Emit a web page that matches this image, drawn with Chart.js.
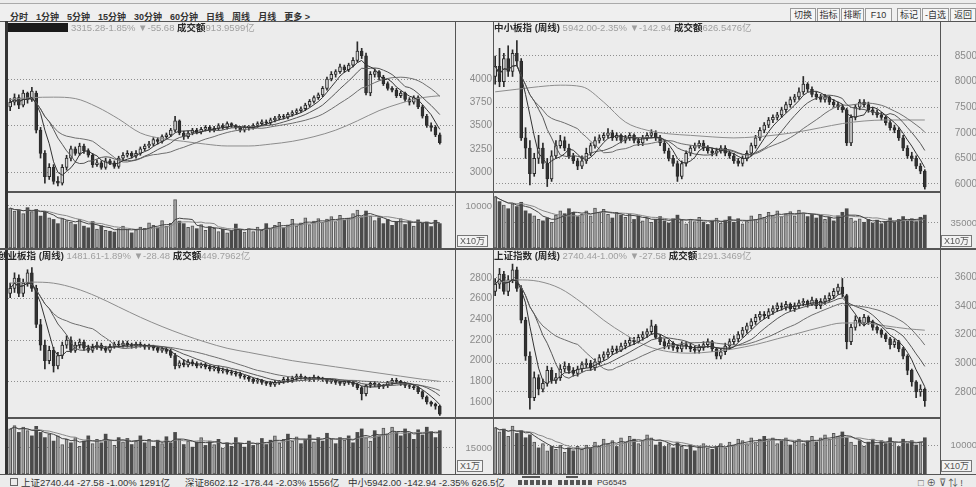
<!DOCTYPE html>
<html>
<head>
<meta charset="utf-8">
<script src="https://cdn.jsdelivr.net/npm/chart.js@4.4.1/dist/chart.umd.min.js"></script>
<style>
body{margin:0;width:976px;height:487px;overflow:hidden;background:#ececec;position:relative;font-family:"Liberation Sans","Noto Sans CJK SC",sans-serif;}
canvas{position:absolute}
.ln{position:absolute;background:#555}
.hdr{position:absolute;font-size:9.5px;line-height:11px;white-space:nowrap;color:#a0a0a0}
.hdr b{color:#2a2a2a}
.unit{position:absolute;border:1px solid #777;font-size:9px;line-height:10px;padding:0 2px;color:#555;background:#f3f3f3}
.btn{position:absolute;top:8px;height:12px;border:1px solid #999;font-size:9px;line-height:12px;text-align:center;color:#333;background:#f5f5f5}
#tool{position:absolute;left:10px;top:10px;font-size:9px;font-weight:bold;color:#333;display:flex;gap:8px;white-space:nowrap}
.st{position:absolute;top:478px;font-size:9.5px;line-height:10px;color:#333;white-space:nowrap}
</style>
</head>
<body>
<div style="position:absolute;left:0;top:3px;width:976px;height:17px;border-top:1px solid #aaa;border-bottom:1px solid #555;background:#efefef"></div>
<div id="tool"><span>分时</span><span>1分钟</span><span>5分钟</span><span>15分钟</span><span>30分钟</span><span>60分钟</span><span>日线</span><span>周线</span><span>月线</span><span>更多 &gt;</span></div>
<div class="btn" style="left:790px;width:24px">切换</div>
<div class="btn" style="left:817px;width:21px">指标</div>
<div class="btn" style="left:841px;width:21px">排断</div>
<div class="btn" style="left:865px;width:25px">F10</div>
<div class="btn" style="left:897px;width:22px">标记</div>
<div class="btn" style="left:922px;width:25px">-自选</div>
<div class="btn" style="left:950px;width:24px">返回</div>

<canvas id="p0" width="484" height="169" style="left:8px;top:22px"></canvas>
<canvas id="v0" width="484" height="55" style="left:8px;top:193px"></canvas>
<canvas id="p1" width="484" height="169" style="left:493px;top:22px"></canvas>
<canvas id="v1" width="484" height="55" style="left:493px;top:193px"></canvas>
<canvas id="p2" width="484" height="167" style="left:8px;top:250px"></canvas>
<canvas id="v2" width="484" height="55" style="left:8px;top:419px"></canvas>
<canvas id="p3" width="484" height="167" style="left:493px;top:250px"></canvas>
<canvas id="v3" width="484" height="55" style="left:493px;top:419px"></canvas>

<div class="ln" style="left:0;top:21px;width:976px;height:1px"></div>
<div class="ln" style="left:5px;top:21px;width:3px;height:453px;background:#333"></div>
<div class="ln" style="left:455px;top:21px;width:1px;height:453px"></div>
<div class="ln" style="left:493px;top:21px;width:1px;height:453px"></div>
<div class="ln" style="left:940px;top:21px;width:1px;height:453px"></div>
<div class="ln" style="left:8px;top:191px;width:932px;height:2px"></div>
<div class="ln" style="left:0;top:248px;width:976px;height:2px"></div>
<div class="ln" style="left:8px;top:417px;width:932px;height:2px"></div>
<div class="ln" style="left:0;top:474px;width:976px;height:1px"></div>

<div style="position:absolute;left:8px;top:23px;width:60px;height:9px;background:#1a1a1a"></div>
<div class="hdr" style="left:71px;top:22px">3315.28-1.85% ▼-55.68 <b>成交额</b>913.9599亿</div>
<div class="hdr" style="left:494px;top:22px"><b>中小板指 (周线)</b> 5942.00-2.35% ▼-142.94 <b>成交额</b>626.5476亿</div>
<div class="hdr" style="left:-2px;top:250px"><b>创业板指 (周线)</b> 1481.61-1.89% ▼-28.48 <b>成交额</b>449.7962亿</div>
<div class="hdr" style="left:494px;top:250px"><b>上证指数 (周线)</b> 2740.44-1.00% ▼-27.58 <b>成交额</b>1291.3469亿</div>

<div class="unit" style="left:457px;top:235px">X10万</div>
<div class="unit" style="left:941px;top:235px">X10万</div>
<div class="unit" style="left:457px;top:460px">X1万</div>
<div class="unit" style="left:941px;top:460px">X10万</div>

<div style="position:absolute;left:10px;top:478px;width:6px;height:6px;border:1px solid #666"></div>
<div class="st" style="left:21px">上证2740.44 -27.58 -1.00% 1291亿</div>
<div class="st" style="left:185px">深证8602.12 -178.44 -2.03% 1556亿</div>
<div class="st" style="left:348px">中小5942.00 -142.94 -2.35% 626.5亿</div>
<div style="position:absolute;left:518px;top:480px;width:36px;height:5px;background:repeating-linear-gradient(90deg,#555 0 4px,transparent 4px 6px)"></div>
<div style="position:absolute;left:522px;top:476px;width:18px;height:2px;background:#555"></div>
<div style="position:absolute;left:558px;top:480px;width:34px;height:5px;background:repeating-linear-gradient(90deg,#555 0 4px,transparent 4px 6px)"></div>
<div style="position:absolute;left:566px;top:476px;width:12px;height:2px;background:#555"></div>
<div class="st" style="left:597px;font-size:8px">PG6545</div>
<div class="st" style="left:918px;color:#555">□ ⊕ ⊽ ⇅ !</div>

<script>
// week slots, three empty ones keep the gap at the right edge
const weeks = [];
for (let i = 1; i <= 100; i++) weeks.push('W' + i);
const cats = weeks.concat(['P1', 'P2', 'P3']);

// top left index
const hsOpen = [3700,3750,3800,3720,3850,3780,3850,3450,3200,2950, 3050,2900,2880,3050,3150,3250,3200,3280,3230,3180,
  3080,3100,3050,3120,3100,3060,3150,3180,3200,3170, 3200,3250,3280,3300,3350,3330,3380,3400,3450,3550,
  3420,3380,3420,3450,3430,3460,3480,3450,3470,3500, 3480,3520,3500,3480,3450,3480,3480,3500,3520,3540,
  3530,3560,3580,3600,3590,3620,3640,3660,3680,3720, 3760,3800,3830,3900,4000,4050,4080,4130,4100,4150,
  4200,4300,4250,3850,4050,4080,4020,3950,3900,3880, 3820,3850,3780,3750,3800,3700,3600,3500,3480,3400];
const hsHigh = [3790,3840,3830,3880,3860,3910,3870,3480,3230,3090, 3080,2950,3080,3180,3280,3270,3310,3300,3250,3200,
  3130,3120,3150,3140,3120,3170,3210,3230,3220,3230, 3270,3300,3330,3370,3370,3400,3420,3470,3600,3560,
  3440,3440,3470,3470,3480,3500,3500,3490,3520,3520, 3540,3530,3510,3490,3500,3500,3520,3540,3560,3560,
  3580,3600,3620,3620,3640,3660,3680,3700,3740,3780, 3820,3850,3920,4020,4080,4100,4160,4150,4170,4230,
  4400,4330,4280,4080,4110,4090,4040,3970,3920,3900, 3870,3860,3800,3820,3820,3720,3620,3530,3500,3420];
const hsLow = [3660,3720,3680,3700,3740,3760,3420,3150,2880,2920, 2870,2850,2860,3020,3120,3180,3180,3200,3160,3050,
  3060,3030,3030,3080,3040,3040,3130,3160,3150,3150, 3180,3230,3260,3280,3300,3310,3360,3380,3430,3400,
  3350,3360,3400,3410,3410,3440,3430,3430,3450,3460, 3460,3480,3460,3430,3430,3450,3460,3480,3500,3510,
  3510,3540,3560,3570,3570,3600,3620,3640,3660,3700, 3740,3780,3810,3880,3980,4020,4060,4070,4080,4130,
  4180,4220,3830,3820,4020,3990,3930,3880,3860,3800, 3800,3760,3720,3730,3680,3580,3480,3440,3380,3300];
const hsClose = [3750,3800,3720,3850,3780,3870,3450,3200,2950,3050, 2900,2880,3050,3150,3250,3200,3280,3230,3180,3080,
  3100,3050,3120,3100,3060,3150,3180,3200,3170,3200, 3250,3280,3300,3350,3330,3380,3400,3450,3550,3420,
  3380,3420,3450,3430,3460,3480,3450,3470,3500,3480, 3520,3500,3480,3450,3480,3480,3500,3520,3540,3530,
  3560,3580,3600,3590,3620,3640,3660,3680,3720,3760, 3800,3830,3900,4000,4050,4080,4130,4100,4150,4200,
  4300,4250,3850,4050,4080,4020,3950,3900,3880,3820, 3850,3780,3750,3800,3700,3600,3500,3480,3400,3315.28];
const hsVol = [9500,8800,9000,8200,9600,8700,9200,7600,8500,7200, 6800,5800,7000,6500,6200,5600,6900,5200,4800,6300,
  4500,5300,4200,4000,3800,4600,5200,4400,3600,4300, 5000,4700,6000,5400,4800,6500,5200,5900,11500,6400,
  5800,4900,5300,4600,5600,4200,5100,4700,3900,4500, 3600,4100,5700,4300,3800,4600,3900,5000,4200,5800,
  4600,5400,6100,4800,5500,6800,5200,6000,7200,5600, 6400,7000,6100,6900,7500,6300,7800,6600,7100,8200,
  9000,7400,8800,7600,6500,7200,5800,6800,5400,6300, 7000,5600,6400,5200,6700,5900,6200,5100,6600,5800];
const hsLongMA = [[0,3780],[5,3800],[10,3805],[15,3790],[20,3700],[25,3570],[30,3420],[35,3360],[40,3330],[45,3300],
  [50,3280],[55,3280],[60,3300],[65,3330],[70,3380],[75,3450],[80,3550],[85,3660],[90,3740],[95,3800],[99,3820]];

// 中小板指
const zxOpen = [8100,8300,8000,8450,8200,8550,8400,6900,6700,6200, 6500,6700,6400,6100,6550,6750,6850,6700,6550,6450,
  6350,6450,6600,6750,6850,6900,6950,7000,6900,6950, 6850,6900,6950,6850,6800,6900,6950,7000,6900,6800,
  6650,6500,6400,6150,6400,6600,6700,6750,6800,6700, 6650,6600,6650,6700,6600,6550,6450,6400,6500,6600,
  6750,6900,7050,7150,7250,7300,7350,7450,7550,7650, 7700,7800,7950,7850,7750,7700,7650,7700,7600,7550,
  7500,7450,6800,7300,7500,7600,7550,7450,7400,7350, 7300,7200,7100,7050,6900,6700,6550,6500,6350,6250];
const zxHigh = [8500,8650,8550,8700,8620,8800,8450,7100,6850,6600, 6950,6800,6500,6650,6850,6950,6920,6780,6600,6500,
  6550,6700,6800,6920,6960,7000,7080,7050,7000,6980, 6950,7000,6980,6900,6950,7000,7060,7040,6950,6850,
  6700,6560,6450,6450,6650,6750,6800,6850,6850,6750, 6700,6700,6750,6750,6650,6600,6500,6550,6650,6800,
  6950,7100,7200,7300,7350,7400,7500,7600,7700,7750, 7880,8100,7980,7900,7800,7750,7750,7720,7650,7600,
  7550,7480,7350,7550,7650,7650,7600,7500,7450,7400, 7330,7250,7150,7100,6950,6750,6620,6550,6400,6280];
const zxLow = [7950,7900,7900,8100,8100,8300,6850,6500,5980,6150, 6400,6300,5950,6050,6500,6700,6650,6500,6400,6280,
  6300,6400,6550,6700,6800,6850,6900,6850,6850,6800, 6800,6850,6800,6750,6750,6850,6900,6850,6750,6600,
  6450,6350,6050,6100,6350,6550,6650,6700,6650,6600, 6550,6550,6600,6550,6500,6400,6350,6350,6450,6550,
  6700,6850,7000,7100,7200,7250,7300,7400,7500,7600, 7650,7750,7800,7700,7650,7600,7600,7550,7500,7450,
  7400,6750,6750,7250,7450,7500,7400,7350,7300,7250, 7150,7050,7000,6850,6650,6500,6450,6300,6200,5900];
const zxClose = [8300,8000,8450,8200,8550,8400,6900,6700,6200,6500, 6700,6400,6100,6550,6750,6850,6700,6550,6450,6350,
  6450,6600,6750,6850,6900,6950,7000,6900,6950,6850, 6900,6950,6850,6800,6900,6950,7000,6900,6800,6650,
  6500,6400,6150,6400,6600,6700,6750,6800,6700,6650, 6600,6650,6700,6600,6550,6450,6400,6500,6600,6750,
  6900,7050,7150,7250,7300,7350,7450,7550,7650,7700, 7800,7950,7850,7750,7700,7650,7700,7600,7550,7500,
  7450,6800,7300,7500,7600,7550,7450,7400,7350,7300, 7200,7100,7050,6900,6700,6550,6500,6350,6250,5942];
const zxVol = [72000,65000,60000,55000,62000,58000,64000,52000,48000,45000, 40000,38000,42000,36000,46000,52000,48000,55000,50000,44000,
  47000,52000,45000,56000,50000,54000,47000,42000,50000,46000, 43000,48000,40000,45000,38000,42000,36000,40000,44000,38000,
  35000,41000,46000,39000,34000,40000,37000,43000,36000,33000, 38000,42000,35000,39000,44000,36000,41000,34000,38000,45000,
  40000,47000,43000,50000,46000,52000,44000,48000,51000,45000, 53000,49000,44000,47000,42000,46000,40000,43000,38000,45000,
  50000,55000,42000,38000,41000,36000,40000,35000,39000,34000, 37000,42000,36000,40000,44000,38000,41000,37000,43000,46000];
const zxLongMA = [[0,7800],[5,7850],[10,7900],[15,7930],[20,7900],[25,7600],[30,7210],[35,7050],[40,6980],[45,6950],
  [50,6920],[55,6900],[60,6920],[65,6960],[70,7020],[75,7100],[80,7180],[85,7230],[90,7250],[95,7250],[99,7250]];

// 创业板指
const cyOpen = [2650,2700,2800,2650,2750,2850,2700,2350,2150,2000, 2100,1950,2050,2150,2200,2100,2150,2180,2120,2100,
  2130,2150,2120,2100,2140,2160,2150,2170,2150,2140, 2160,2150,2130,2140,2120,2100,2110,2090,2050,1950,
  1980,1960,1990,1970,1950,1960,1940,1920,1930,1900, 1910,1890,1880,1870,1850,1840,1820,1800,1810,1790,
  1780,1770,1790,1800,1820,1810,1830,1850,1840,1830, 1820,1840,1830,1820,1800,1810,1790,1780,1800,1790,
  1770,1740,1680,1760,1780,1770,1750,1760,1790,1810, 1800,1780,1760,1750,1740,1700,1650,1600,1580,1560];
const cyHigh = [2750,2850,2830,2790,2880,2900,2730,2400,2200,2140, 2130,2080,2180,2240,2230,2180,2210,2200,2150,2160,
  2180,2170,2140,2160,2180,2190,2190,2190,2170,2180, 2180,2160,2160,2150,2140,2130,2130,2110,2070,2000,
  2010,2010,2010,1990,1980,1980,1960,1950,1950,1930, 1920,1910,1900,1890,1860,1850,1830,1830,1820,1800,
  1800,1810,1810,1840,1840,1850,1870,1870,1850,1840, 1860,1850,1840,1830,1820,1820,1800,1810,1810,1800,
  1780,1750,1770,1800,1800,1780,1770,1800,1830,1830, 1810,1790,1770,1760,1750,1710,1660,1610,1590,1570];
const cyLow = [2610,2660,2620,2620,2720,2670,2320,2100,1920,1970, 1890,1920,2020,2120,2080,2080,2120,2100,2080,2080,
  2110,2100,2080,2080,2120,2130,2130,2130,2120,2120, 2130,2110,2110,2100,2080,2080,2070,2030,1920,1930,
  1940,1940,1950,1930,1930,1920,1900,1900,1880,1880, 1870,1860,1850,1830,1820,1800,1780,1780,1770,1760,
  1750,1750,1770,1780,1790,1790,1810,1820,1810,1800, 1800,1810,1800,1780,1780,1770,1760,1760,1770,1750,
  1720,1620,1660,1740,1750,1730,1730,1740,1770,1780, 1760,1740,1730,1720,1680,1630,1580,1560,1530,1470];
const cyClose = [2700,2800,2650,2750,2850,2700,2350,2150,2000,2100, 1950,2050,2150,2200,2100,2150,2180,2120,2100,2130,
  2150,2120,2100,2140,2160,2150,2170,2150,2140,2160, 2150,2130,2140,2120,2100,2110,2090,2050,1950,1980,
  1960,1990,1970,1950,1960,1940,1920,1930,1900,1910, 1890,1880,1870,1850,1840,1820,1800,1810,1790,1780,
  1770,1790,1800,1820,1810,1830,1850,1840,1830,1820, 1840,1830,1820,1800,1810,1790,1780,1800,1790,1770,
  1740,1680,1760,1780,1770,1750,1760,1790,1810,1800, 1780,1760,1750,1740,1700,1650,1600,1580,1560,1481.61];
const cyVol = [26000,28000,24000,27000,25000,22000,27500,24000,21000,23000, 19000,22000,17000,20000,18000,21000,16000,19000,22000,17500,
  20000,18000,23000,19500,16500,21000,18500,20500,17000,19000, 22000,18000,20000,16000,19500,17500,21500,18000,24000,20000,
  17000,19000,15500,18500,21000,16500,19000,17000,20000,15000, 18000,16000,21000,17500,15500,19000,16500,18000,20500,17000,
  19500,22000,18000,20000,23000,19000,21500,17500,20000,22500, 18500,21000,19000,23500,20000,17500,21000,19500,22000,18000,
  24000,26000,21000,19000,25000,22000,26500,23000,27000,24000, 22000,26000,23500,20000,25500,22500,27000,24500,21000,25000];
const cyLongMA = [[0,2750],[5,2760],[10,2750],[15,2700],[20,2620],[25,2520],[30,2420],[35,2330],[40,2250],[45,2180],
  [50,2120],[55,2080],[60,2040],[65,2000],[70,1970],[75,1940],[80,1910],[85,1880],[90,1850],[95,1820],[99,1800]];

// 上证指数
const shOpen = [3500,3550,3620,3500,3580,3650,3520,3300,3050,2760, 2900,2820,2860,2950,2880,2900,2960,2980,2950,2930,
  2960,2990,3000,2970,3010,3040,3060,3080,3100,3090, 3120,3140,3160,3150,3180,3200,3220,3260,3180,3150,
  3120,3140,3110,3100,3130,3120,3100,3090,3110,3130, 3150,3100,3050,3080,3120,3150,3170,3200,3230,3260,
  3290,3320,3340,3330,3360,3380,3400,3390,3410,3380, 3400,3420,3430,3410,3440,3400,3430,3450,3470,3500,
  3530,3470,3150,3250,3300,3280,3320,3290,3250,3230, 3200,3170,3130,3150,3100,3050,2950,2870,2800,2820];
const shHigh = [3590,3660,3640,3610,3690,3670,3540,3320,3080,2940, 2920,2890,2980,2970,2930,2990,3010,3000,2970,2980,
  3010,3030,3020,3030,3060,3080,3100,3120,3120,3140, 3160,3180,3180,3200,3220,3240,3300,3270,3200,3170,
  3160,3150,3130,3150,3150,3140,3120,3130,3150,3170, 3160,3110,3100,3140,3170,3190,3220,3250,3280,3310,
  3340,3360,3360,3380,3400,3420,3420,3430,3420,3420, 3440,3450,3440,3460,3450,3450,3470,3490,3520,3550,
  3590,3480,3270,3330,3320,3340,3330,3300,3260,3240, 3210,3180,3170,3160,3110,3060,2960,2880,2850,2830];
const shLow = [3470,3520,3480,3470,3560,3500,3280,3020,2680,2740, 2780,2800,2840,2860,2860,2880,2940,2930,2910,2910,
  2940,2970,2950,2950,2990,3020,3040,3060,3070,3080, 3100,3120,3130,3140,3160,3180,3200,3170,3130,3100,
  3100,3090,3080,3080,3100,3080,3070,3070,3090,3110, 3080,3030,3030,3060,3100,3130,3150,3180,3210,3240,
  3270,3300,3310,3310,3340,3360,3370,3370,3360,3360, 3380,3400,3390,3400,3380,3380,3410,3430,3450,3480,
  3460,3100,3130,3230,3260,3260,3270,3230,3210,3180, 3150,3100,3110,3080,3030,2920,2840,2760,2770,2700];
const shClose = [3550,3620,3500,3580,3650,3520,3300,3050,2760,2900, 2820,2860,2950,2880,2900,2960,2980,2950,2930,2960,
  2990,3000,2970,3010,3040,3060,3080,3100,3090,3120, 3140,3160,3150,3180,3200,3220,3260,3180,3150,3120,
  3140,3110,3100,3130,3120,3100,3090,3110,3130,3150, 3100,3050,3080,3120,3150,3170,3200,3230,3260,3290,
  3320,3340,3330,3360,3380,3400,3390,3410,3380,3400, 3420,3430,3410,3440,3400,3430,3450,3470,3500,3530,
  3480,3150,3250,3300,3280,3320,3290,3250,3230,3200, 3170,3130,3150,3100,3050,2950,2870,2800,2820,2740.44];
const shVol = [16000,14500,15500,13000,16500,14000,15000,12500,13500,11000, 9000,10500,8000,9500,8500,10000,7500,9000,8000,9500,
  8500,10000,9000,11000,9500,12000,10500,11500,9500,12500, 11000,13000,12000,10500,11500,13500,12500,10000,11000,9500,
  10500,9000,11000,9500,8500,10000,8000,9500,10500,9000, 8500,9500,10500,9000,11000,10000,12000,11500,10500,12500,
  11000,12000,13000,11500,12500,10500,11500,12500,10000,11000, 12000,10500,11500,13000,11000,12500,13500,12000,14000,13000,
  14500,12500,11000,10000,11500,9500,11000,12000,10000,11500, 10500,12500,11000,9500,12000,10500,11500,10000,11000,12500];
const shLongMA = [[0,3560],[5,3580],[10,3570],[15,3520],[20,3420],[25,3300],[30,3200],[35,3120],[40,3080],[45,3070],
  [50,3080],[55,3100],[60,3130],[65,3170],[70,3210],[75,3250],[80,3280],[85,3280],[90,3260],[95,3240],[99,3230]];

function ma(src, n) {
  return src.map((_, i) => {
    const part = src.slice(Math.max(0, i - n + 1), i + 1);
    return part.reduce((a, b) => a + b, 0) / part.length;
  });
}

function longLine(pairs) {
  return pairs.map(p => ({x: weeks[p[0]], y: p[1]}));
}

function yScale(min, max, ticks, grid, size, pad) {
  return {
    position: 'right', min: min, max: max,
    afterBuildTicks: s => { s.ticks = ticks.map(v => ({value: v})); },
    // keep the plot full height: the tick padding is only wanted sideways
    afterFit: s => { s.width = 37; s.paddingTop = 0; s.paddingBottom = 0; },
    ticks: {crossAlign: 'far', padding: pad, color: '#8a8a8a', autoSkip: false,
      font: {size: size, family: 'Liberation Sans'}, callback: v => String(v)},
    grid: {drawTicks: false, color: ctx => (ctx.tick && grid.indexOf(ctx.tick.value) >= 0) ? '#8e8e8e' : 'rgba(0,0,0,0)'},
    border: {display: false, dash: [1, 2]}
  };
}

function baseOpts(y) {
  return {
    responsive: false, animation: false, events: [],
    layout: {padding: 0, autoPadding: false},
    plugins: {legend: {display: false}, tooltip: {enabled: false}},
    scales: {x: {display: false, offset: true}, y: y}
  };
}

function line(data, color) {
  return {type: 'line', data: data, borderColor: color, borderWidth: 1, pointRadius: 0, order: 0};
}

function priceChart(id, o, h, l, c, longMA, y) {
  const up = c.map((v, i) => v >= o[i]);
  const longSet = line(longLine(longMA), '#8c8c8c');
  longSet.cubicInterpolationMode = 'monotone';
  new Chart(document.getElementById(id), {
    type: 'bar',
    data: {
      labels: cats,
      datasets: [
        line(ma(c, 5), '#333'),
        line(ma(c, 10), '#555'),
        line(ma(c, 20), '#6e6e6e'),
        longSet,
        {data: o.map((v, i) => [v, c[i]]), backgroundColor: up.map(u => u ? '#d6d6d6' : '#333'),
          borderColor: '#2a2a2a', borderWidth: 1, borderSkipped: false, barThickness: 3, minBarLength: 1, grouped: false, order: 1},
        {data: l.map((v, i) => [v, h[i]]), backgroundColor: '#2a2a2a', barThickness: 1, grouped: false, order: 2}
      ]
    },
    options: baseOpts(y)
  });
}

function volChart(id, o, c, v, y) {
  const up = c.map((x, i) => x >= o[i]);
  new Chart(document.getElementById(id), {
    type: 'bar',
    data: {
      labels: cats,
      datasets: [
        line(ma(v, 5), '#444'),
        line(ma(v, 10), '#888'),
        {data: v, backgroundColor: up.map(u => u ? '#a2a2a2' : '#4a4a4a'), borderColor: '#555',
          borderWidth: up.map(u => u ? 1 : 0), borderSkipped: false, barThickness: 3, order: 1}
      ]
    },
    options: baseOpts(y)
  });
}

priceChart('p0', hsOpen, hsHigh, hsLow, hsClose, hsLongMA,
  yScale(2796, 4613, [4000, 3750, 3500, 3250, 3000], [4000, 3500, 3000], 10, 14));
volChart('v0', hsOpen, hsClose, hsVol, yScale(0, 13095, [10000], [10000], 9.5, 10));

priceChart('p1', zxOpen, zxHigh, zxLow, zxClose, zxLongMA,
  yScale(5863, 9164, [8500, 8000, 7500, 7000, 6500, 6000], [8500, 8000, 7500, 7000, 6500, 6000], 10, 14));
volChart('v1', zxOpen, zxClose, zxVol, yScale(0, 77000, [35000], [35000], 9.5, 10));

priceChart('p2', cyOpen, cyHigh, cyLow, cyClose, cyLongMA,
  yScale(1455, 3071, [2800, 2600, 2400, 2200, 2000, 1800, 1600], [2600, 2200, 1800], 10, 14));
volChart('v2', cyOpen, cyClose, cyVol, yScale(0, 31730, [15000], [15000], 9.5, 10));

priceChart('p3', shOpen, shHigh, shLow, shClose, shLongMA,
  yScale(2626, 3788, [3600, 3400, 3200, 3000, 2800], [3600, 3400, 3200, 3000, 2800], 10, 14));
volChart('v3', shOpen, shClose, shVol, yScale(0, 18966, [10000], [10000], 9.5, 10));
</script>
</body>
</html>
